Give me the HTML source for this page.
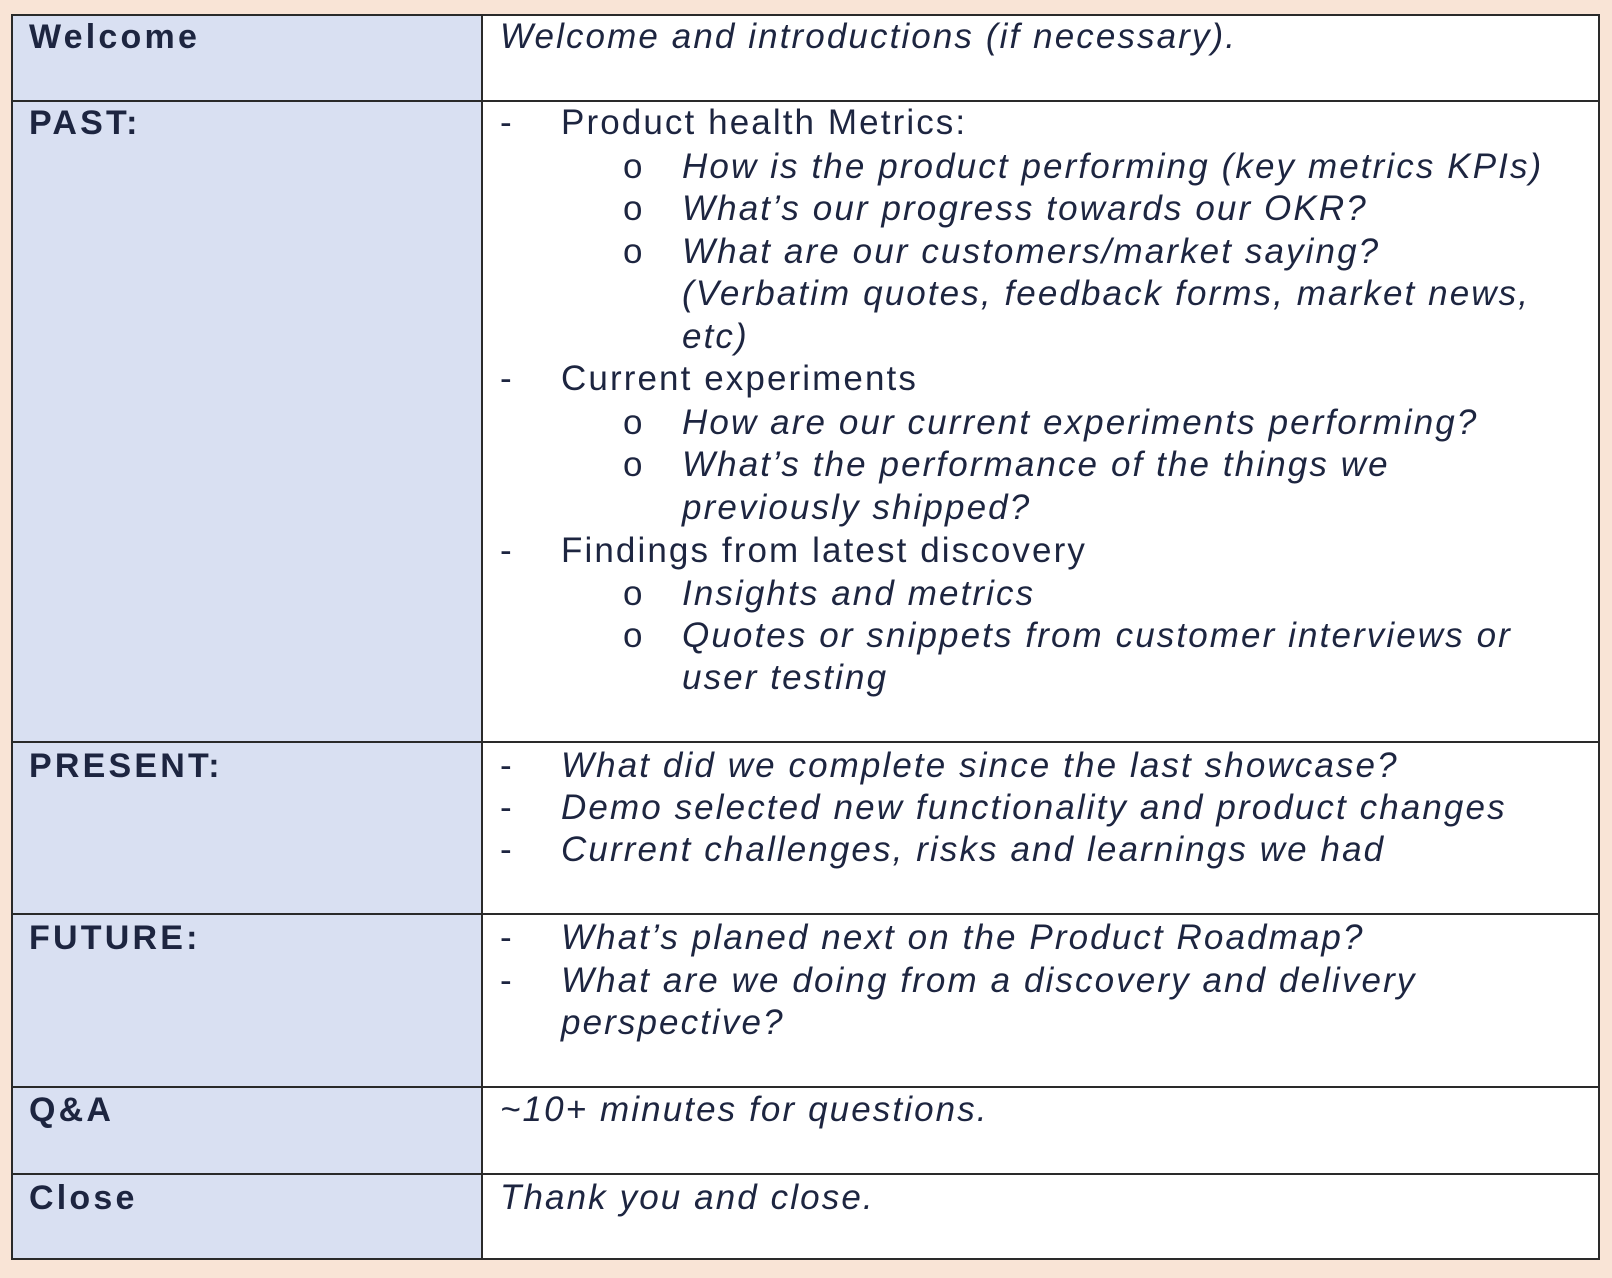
<!DOCTYPE html>
<html><head><meta charset="utf-8"><style>
body{margin:0;width:1612px;height:1278px;background:#f9e4d6;position:relative;overflow:hidden;font-family:"Liberation Sans",sans-serif;color:#1d2540}
.tbl{position:absolute;left:11px;top:14px;width:1589px;height:1246px;background:#fff;border:2px solid #2a2a2a;box-sizing:border-box}
.lc{position:absolute;left:11px;width:471px;background:#d9e0f2}
.h{position:absolute;left:11px;width:1589px;height:2px;background:#2a2a2a}
.v{position:absolute;left:481px;top:14px;width:2px;height:1246px;background:#2a2a2a}
.t{position:absolute;height:42px;line-height:42px;font-size:35px;letter-spacing:2.1px;white-space:nowrap}
.b{font-weight:bold;font-size:34px;letter-spacing:3.2px;left:29px}
.i{font-style:italic}
</style></head><body>
<div class="tbl"></div>
<div class="lc" style="top:14px;height:1246px"></div>
<div class="h" style="top:100px"></div>
<div class="h" style="top:741px"></div>
<div class="h" style="top:913px"></div>
<div class="h" style="top:1086px"></div>
<div class="h" style="top:1173px"></div>
<div class="v"></div>
<div style="position:absolute;left:11px;top:14px;width:1589px;height:1246px;border:2px solid #2a2a2a;box-sizing:border-box"></div>

<div class="t b" style="top:16px">Welcome</div>
<div class="t b" style="top:102px">PAST:</div>
<div class="t b" style="top:745px">PRESENT:</div>
<div class="t b" style="top:917px">FUTURE:</div>
<div class="t b" style="top:1089px">Q&amp;A</div>
<div class="t b" style="top:1177px">Close</div>

<div class="t i" style="left:500px;top:16px">Welcome and introductions (if necessary).</div>

<div class="t" style="left:500px;top:102px">-</div><div class="t" style="left:561px;top:102px">Product health Metrics:</div>
<div class="t" style="left:623px;top:146px">o</div><div class="t i" style="left:682px;top:146px">How is the product performing (key metrics KPIs)</div>
<div class="t" style="left:623px;top:188px">o</div><div class="t i" style="left:682px;top:188px">What’s our progress towards our OKR?</div>
<div class="t" style="left:623px;top:231px">o</div><div class="t i" style="left:682px;top:231px">What are our customers/market saying?</div>
<div class="t i" style="left:682px;top:273px">(Verbatim quotes, feedback forms, market news,</div>
<div class="t i" style="left:682px;top:316px">etc)</div>
<div class="t" style="left:500px;top:358px">-</div><div class="t" style="left:561px;top:358px">Current experiments</div>
<div class="t" style="left:623px;top:402px">o</div><div class="t i" style="left:682px;top:402px">How are our current experiments performing?</div>
<div class="t" style="left:623px;top:444px">o</div><div class="t i" style="left:682px;top:444px">What’s the performance of the things we</div>
<div class="t i" style="left:682px;top:487px">previously shipped?</div>
<div class="t" style="left:500px;top:530px">-</div><div class="t" style="left:561px;top:530px">Findings from latest discovery</div>
<div class="t" style="left:623px;top:573px">o</div><div class="t i" style="left:682px;top:573px">Insights and metrics</div>
<div class="t" style="left:623px;top:615px">o</div><div class="t i" style="left:682px;top:615px">Quotes or snippets from customer interviews or</div>
<div class="t i" style="left:682px;top:657px">user testing</div>

<div class="t" style="left:500px;top:745px">-</div><div class="t i" style="left:561px;top:745px">What did we complete since the last showcase?</div>
<div class="t" style="left:500px;top:787px">-</div><div class="t i" style="left:561px;top:787px">Demo selected new functionality and product changes</div>
<div class="t" style="left:500px;top:829px">-</div><div class="t i" style="left:561px;top:829px">Current challenges, risks and learnings we had</div>

<div class="t" style="left:500px;top:917px">-</div><div class="t i" style="left:561px;top:917px">What’s planed next on the Product Roadmap?</div>
<div class="t" style="left:500px;top:960px">-</div><div class="t i" style="left:561px;top:960px">What are we doing from a discovery and delivery</div>
<div class="t i" style="left:561px;top:1002px">perspective?</div>

<div class="t i" style="left:500px;top:1089px">~10+ minutes for questions.</div>
<div class="t i" style="left:500px;top:1177px">Thank you and close.</div>
</body></html>
